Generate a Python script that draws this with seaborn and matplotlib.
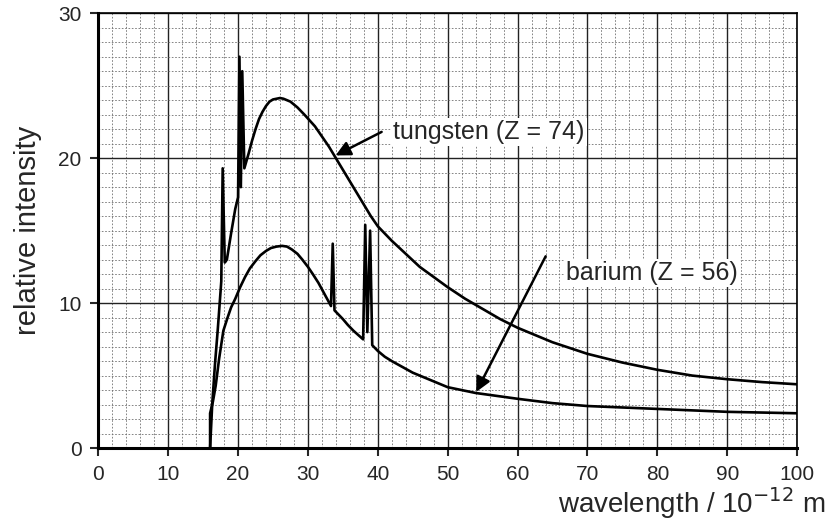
import numpy as np
import pandas as pd
import matplotlib
matplotlib.use("Agg")
import matplotlib.pyplot as plt
import seaborn as sns
from matplotlib.ticker import MultipleLocator

# curve points (wavelength in 1e-12 m)
tungsten_x = [16.0, 16.3, 16.7, 17.1, 17.6, 17.8, 18.1, 18.4, 19.0, 19.6, 20.0, 20.2, 20.4,
              20.6, 20.9, 21.5, 22.0, 22.5, 23.0, 23.5, 24.0, 24.5, 25.0, 25.5, 26.0, 26.5,
              27.0, 27.5, 28.0, 28.5, 29.5, 31, 32, 33, 34, 35, 36, 37, 38, 39, 40,
              42, 44, 46, 48, 50, 52.5, 55, 57.5, 60, 62.5, 65, 67.5, 70, 72.5, 75,
              77.5, 80, 85, 90, 95, 100]
tungsten_y = [0.0, 3.0, 5.8, 8.2, 11.5, 19.3, 12.8, 13.0, 14.8, 16.5, 17.3, 27.0, 18.0,
              26.0, 19.3, 20.3, 21.2, 22.0, 22.7, 23.2, 23.6, 23.9, 24.05, 24.1, 24.15, 24.1,
              24.0, 23.9, 23.7, 23.5, 23.0, 22.2, 21.5, 20.8, 20.0, 19.2, 18.4, 17.6, 16.8, 16.0, 15.3,
              14.3, 13.4, 12.5, 11.8, 11.1, 10.3, 9.6, 8.9, 8.3, 7.8, 7.3, 6.9, 6.5, 6.2, 5.9,
              5.65, 5.4, 5.0, 4.75, 4.55, 4.4]

barium_x = [16.0, 16.0, 16.4, 16.8, 17.3, 17.9, 18.5, 19.0, 19.6, 20.3, 21.0, 21.7,
            22.5, 23.2, 24.0, 24.7, 25.5, 26.3, 27.0, 27.7, 28.5, 29.2, 30.0, 30.7,
            31.5, 32.4, 33.3, 33.55, 33.8, 34.4, 35.0, 35.7, 36.5, 37.2, 37.9, 38.2,
            38.5, 38.9, 39.2, 40, 41, 42, 43.5, 45, 47.5, 50, 52, 54, 57, 60, 65,
            70, 75, 80, 90, 100]
barium_y = [0.0, 2.4, 3.2, 4.3, 6.2, 8.1, 9.0, 9.7, 10.3, 11.1, 11.8, 12.4,
            12.9, 13.3, 13.6, 13.8, 13.9, 13.95, 13.9, 13.7, 13.4, 13.0, 12.5, 12.0,
            11.4, 10.6, 9.8, 14.1, 9.5, 9.2, 8.9, 8.5, 8.1, 7.8, 7.5, 15.4,
            8.0, 15.0, 7.1, 6.7, 6.3, 6.0, 5.6, 5.2, 4.7, 4.2, 4.0, 3.8, 3.6, 3.4, 3.1,
            2.9, 2.8, 2.7, 2.5, 2.4]

df = pd.concat([
    pd.DataFrame({"wavelength": tungsten_x, "intensity": tungsten_y, "element": "tungsten"}),
    pd.DataFrame({"wavelength": barium_x, "intensity": barium_y, "element": "barium"}),
])

sns.set_style("white")
plt.rcParams['font.family'] = ['Liberation Sans', 'DejaVu Sans']

fig = plt.figure(figsize=(8.26, 5.29), dpi=100)
ax = fig.add_axes([0.119, 0.153, 0.846, 0.822])

sns.lineplot(
    data=df, x="wavelength", y="intensity", units="element",
    estimator=None, sort=False, color="black", linewidth=1.9, ax=ax
)

ax.set_xlim(0, 100)
ax.set_ylim(0, 30)

# graph paper grid
ax.xaxis.set_major_locator(MultipleLocator(10))
ax.yaxis.set_major_locator(MultipleLocator(10))
ax.xaxis.set_minor_locator(MultipleLocator(2))
ax.yaxis.set_minor_locator(MultipleLocator(1))
ax.grid(which="minor", color="#707070", linestyle=(0, (2, 2)), linewidth=0.6)
ax.grid(which="major", color="#222222", linestyle="-", linewidth=1.0)
ax.set_axisbelow(True)

for side in ["left", "bottom", "right", "top"]:
    ax.spines[side].set_color("black")
ax.spines["left"].set_linewidth(2.2)
ax.spines["bottom"].set_linewidth(2.2)
ax.spines["right"].set_linewidth(1.2)
ax.spines["top"].set_linewidth(1.2)

ax.tick_params(which="major", direction="out", length=6, width=1.5,
               labelsize=15, bottom=True, left=True, pad=6)
ax.tick_params(which="minor", length=0)

ax.set_xlabel("")
ax.set_ylabel("relative intensity", fontsize=21, labelpad=12)
fig.text(0.999, 0.015, "wavelength / 10$^{-12}$ m", ha="right", va="bottom", fontsize=20)

# labels with arrows
box = dict(facecolor="white", edgecolor="none", pad=1.5)
ax.text(42.2, 21.8, "tungsten (Z = 74)", fontsize=18, va="center", ha="left", bbox=box)
ax.annotate("", xy=(33.6, 20.1), xytext=(40.9, 21.9),
            arrowprops=dict(arrowstyle="-|>", color="black", lw=1.8, mutation_scale=22))
ax.text(67.0, 12.1, "barium (Z = 56)", fontsize=18, va="center", ha="left", bbox=box)
ax.annotate("", xy=(53.9, 3.7), xytext=(64.2, 13.4),
            arrowprops=dict(arrowstyle="-|>", color="black", lw=1.8, mutation_scale=22))

plt.savefig("out.png", dpi=100)
